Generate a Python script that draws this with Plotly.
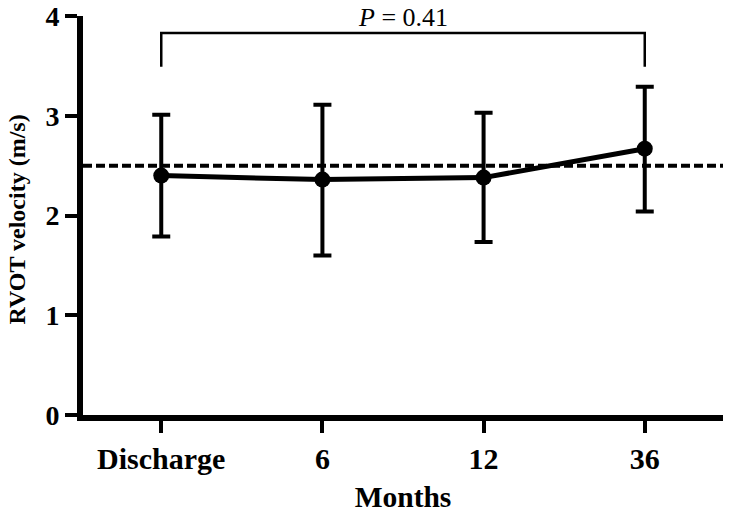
import plotly.graph_objects as go

categories = ["Discharge", "6", "12", "36"]
means = [2.40, 2.36, 2.38, 2.67]
upper = [3.01, 3.11, 3.03, 3.29]
lower = [1.79, 1.60, 1.735, 2.04]
reference_line = 2.5
bracket_top = 3.83
bracket_bottom = 3.49
p_label_y = 3.99
y_ticks = [0, 1, 2, 3, 4]

xs = list(range(len(categories)))
err_plus = [u - m for u, m in zip(upper, means)]
err_minus = [m - l for m, l in zip(means, lower)]

FONT = "Liberation Serif, Times New Roman, serif"
X_RANGE = [-0.4855, 3.4855]

fig = go.Figure()
fig.add_trace(go.Scatter(
    x=X_RANGE, y=[reference_line, reference_line], mode="lines",
    line=dict(color="black", width=4, dash="9px,4px"), showlegend=False, hoverinfo="skip"))
fig.add_trace(go.Scatter(
    x=xs, y=means, mode="lines+markers",
    line=dict(color="black", width=5),
    marker=dict(color="black", size=16),
    error_y=dict(type="data", array=err_plus, arrayminus=err_minus,
                 color="black", thickness=4, width=9),
    showlegend=False))

# significance bracket
fig.add_trace(go.Scatter(
    x=[xs[0], xs[0], xs[-1], xs[-1]],
    y=[bracket_bottom, bracket_top, bracket_top, bracket_bottom],
    mode="lines", line=dict(color="black", width=2.5), showlegend=False, hoverinfo="skip"))
fig.add_annotation(x=(xs[0] + xs[-1]) / 2, y=p_label_y, text="<i>P</i> = 0.41",
                   showarrow=False, font=dict(family=FONT, size=26, color="black"))

# y-axis title as rotated annotation
fig.add_annotation(xref="paper", yref="paper", x=-0.103, y=0.49,
                   xanchor="center", yanchor="middle", textangle=-90,
                   text="<b>RVOT velocity (m/s)</b>", showarrow=False,
                   font=dict(family=FONT, size=24, color="black"))

fig.update_layout(
    width=730, height=513,
    margin=dict(l=83, r=7, t=15.5, b=97.5),
    paper_bgcolor="white", plot_bgcolor="white",
    font=dict(family=FONT, color="black"),
)
fig.update_xaxes(
    range=X_RANGE, tickvals=xs, ticktext=categories,
    showgrid=False, zeroline=False, showline=True, linecolor="black", linewidth=6,
    ticks="outside", ticklen=12, tickwidth=4, tickcolor="black",
    tickfont=dict(family=FONT, size=30, color="black", weight="bold"),
    ticklabeloverflow="allow",
    title=dict(text="Months", font=dict(family=FONT, size=29.5, color="black", weight="bold"), standoff=15),
    automargin=False,
)
fig.update_yaxes(
    range=[0, 4], tickvals=y_ticks,
    showgrid=False, zeroline=False, showline=True, linecolor="black", linewidth=6,
    ticks="outside", ticklen=12, tickwidth=4, tickcolor="black",
    tickfont=dict(family=FONT, size=28, color="black", weight="bold"),
    ticklabeloverflow="allow",
    automargin=False,
)

fig.write_html("out.html", config={"displayModeBar": False},
               post_script="document.body.style.margin='0';")
